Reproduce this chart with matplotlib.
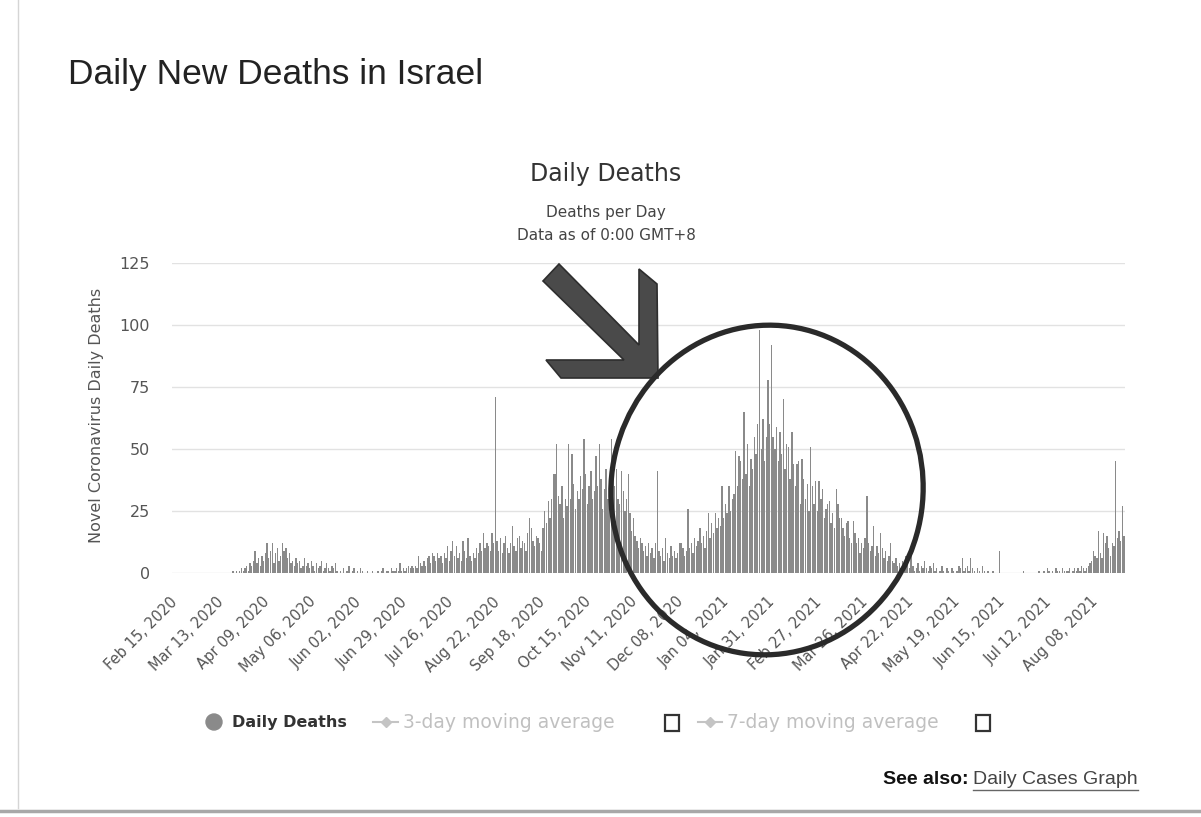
import pandas as pd
import numpy as np
import matplotlib
matplotlib.use("Agg")
import matplotlib.pyplot as plt
from matplotlib.patches import Polygon, Ellipse, Circle, Rectangle
from matplotlib.transforms import ScaledTranslation

# --- data (one value per day, first day Feb 15, 2020) ---
start_date = "2020-02-15"
daily_deaths = [
    0, 0, 0, 0, 0, 0, 0,  0, 0, 0, 0, 0, 0, 0,  0, 0, 0, 0, 0, 0, 0,
    0, 0, 0, 0, 0, 0, 0,  0, 0, 0, 0, 0, 0,
    1, 0, 1, 0, 1, 2, 1,
    2, 3, 1, 4, 3, 5, 9,
    4, 6, 3, 7, 5, 8, 12,
    6, 9, 12, 4, 8, 10, 5,
    7, 12, 9, 10, 6, 8, 4,
    5, 3, 6, 4, 5, 2, 3,
    6, 3, 4, 2, 5, 3, 1,
    4, 2, 3, 5, 1, 2, 4,
    2, 1, 3, 2, 4, 1, 0,
    1, 0, 2, 0, 1, 3, 0,
    1, 2, 0, 1, 0, 2, 1,
    0, 0, 1, 0, 0, 1, 0,
    0, 1, 0, 1, 2, 0, 1,
    1, 0, 2, 1, 1, 2, 1,
    4, 1, 2, 1, 2, 3, 2,
    3, 2, 3, 2, 7, 4, 3,
    5, 3, 6, 7, 4, 8, 7,
    5, 8, 6, 7, 4, 8, 6,
    11, 5, 9, 13, 7, 11, 6,
    8, 5, 13, 9, 6, 14, 7,
    5, 8, 6, 10, 8, 12, 9,
    16, 10, 12, 11, 9, 16, 12,
    71, 13, 9, 14, 8, 12, 15,
    10, 8, 12, 19, 11, 9, 14,
    15, 10, 13, 12, 9, 16, 22,
    18, 13, 11, 15, 14, 12, 9,
    18, 25, 20, 29, 22, 30, 40,
    40, 52, 31, 28, 35, 22, 30,
    27, 52, 30, 48, 36, 26, 33,
    30, 39, 34, 54, 40, 28, 35,
    41, 30, 33, 47, 35, 52, 38,
    26, 34, 42, 30, 38, 54, 47,
    35, 42, 30, 28, 41, 33, 25,
    30, 40, 24, 17, 22, 15, 13,
    10, 14, 12, 9, 11, 7, 12,
    8, 10, 6, 12, 41, 9, 7,
    10, 5, 14, 8, 6, 11, 7,
    9, 6, 8, 12, 12, 10, 7,
    9, 26, 10, 12, 8, 14, 11,
    13, 18, 12, 15, 10, 17, 24,
    14, 20, 16, 24, 18, 22, 19,
    35, 22, 28, 24, 35, 25, 30,
    32, 49, 35, 47, 45, 38, 65,
    40, 52, 35, 46, 42, 55, 48,
    60, 98, 50, 62, 45, 55, 78,
    60, 92, 55, 50, 59, 45, 57,
    48, 70, 42, 52, 51, 38, 57,
    44, 35, 44, 45, 28, 46, 38,
    30, 36, 25, 51, 35, 28, 37,
    25, 37, 30, 34, 22, 26, 28,
    29, 20, 24, 18, 34, 28, 22,
    22, 18, 15, 20, 21, 14, 12,
    21, 16, 12, 14, 8, 12, 10,
    14, 31, 12, 9, 11, 19, 7,
    11, 8, 16, 10, 6, 9, 5,
    7, 12, 5, 4, 6, 3, 4,
    2, 5, 3, 7, 4, 2, 10,
    3, 1, 2, 4, 1, 3, 2,
    5, 2, 1, 3, 2, 4, 1,
    2, 0, 1, 3, 1, 0, 2,
    1, 0, 2, 1, 0, 1, 3,
    2, 6, 1, 2, 3, 1, 6,
    2, 1, 0, 2, 1, 0, 3,
    1, 0, 1, 0, 0, 1, 0,
    0, 0, 9, 0, 0, 0, 0,
    0, 0, 0, 0, 0, 0, 0,
    0, 0, 1, 0, 0, 0, 0,
    0, 0, 0, 0, 1, 0, 0,
    1, 0, 2, 1, 0, 1, 0,
    2, 1, 1, 0, 2, 1, 1,
    1, 2, 0, 1, 2, 1, 2,
    1, 3, 2, 1, 2, 3, 4,
    5, 9, 7, 6, 17, 8, 6,
    16, 12, 15, 10, 7, 12, 11,
    45, 14, 17, 13, 27, 15,
]

tick_labels = [
    "Feb 15, 2020", "Mar 13, 2020", "Apr 09, 2020", "May 06, 2020",
    "Jun 02, 2020", "Jun 29, 2020", "Jul 26, 2020", "Aug 22, 2020",
    "Sep 18, 2020", "Oct 15, 2020", "Nov 11, 2020", "Dec 08, 2020",
    "Jan 04, 2021", "Jan 31, 2021", "Feb 27, 2021", "Mar 26, 2021",
    "Apr 22, 2021", "May 19, 2021", "Jun 15, 2021", "Jul 12, 2021",
    "Aug 08, 2021",
]
y_ticks = [0, 25, 50, 75, 100, 125]

dates = pd.date_range(start_date, periods=len(daily_deaths), freq="D")
tick_dates = pd.to_datetime(tick_labels, format="%b %d, %Y")
tick_pos = [(d - dates[0]).days for d in tick_dates]
x = np.arange(len(dates))

W, H = 1201, 817
fig = plt.figure(figsize=(W / 100, H / 100), dpi=100)
fig.patch.set_facecolor("white")

# chart area (pixel box 172..1125 x 263..573)
ax = fig.add_axes([172 / W, 1 - 573 / H, (1125 - 172) / W, (573 - 263) / H])
ax.bar(x, daily_deaths, width=0.8, color="#8a8a8a", linewidth=0, zorder=2)
ax.set_xlim(-1.8, len(dates) - 0.5)
ax.set_ylim(0, 125)
ax.set_yticks(y_ticks)
ax.set_yticklabels([str(v) for v in y_ticks], fontsize=11.5, color="#555555")
ax.set_xticks(tick_pos)
ax.set_xticklabels(tick_labels, rotation=45, ha="right", va="center",
                   rotation_mode="anchor", fontsize=10.5, color="#555555")
offset = ScaledTranslation(6 / 100, 0, fig.dpi_scale_trans)
for lbl in ax.get_xticklabels():
    lbl.set_transform(lbl.get_transform() + offset)
ax.tick_params(axis="x", length=0, pad=19)
ax.tick_params(axis="y", length=0, pad=16)
ax.grid(axis="y", color="#e2e2e2", linewidth=1, zorder=0)
for s in ax.spines.values():
    s.set_visible(False)

# overlay in pixel coordinates for titles, legend and the hand-drawn marks
ov = fig.add_axes([0, 0, 1, 1], zorder=5)
ov.set_xlim(0, W)
ov.set_ylim(H, 0)
ov.axis("off")
ov.patch.set_alpha(0)

ov.plot([18, 18], [0, 808], color="#d5d5d5", lw=1)
ov.plot([0, W], [811, 811], color="#a8a8a8", lw=2.5)

ov.text(68, 74, "Daily New Deaths in Israel", fontsize=25.5, family="Liberation Sans",
        color="#222222", ha="left", va="center")
ov.text(606, 174, "Daily Deaths", fontsize=17, color="#333333", ha="center", va="center")
ov.text(606, 212, "Deaths per Day", fontsize=11, color="#444444", ha="center", va="center")
ov.text(606, 235, "Data as of 0:00 GMT+8", fontsize=11, color="#444444", ha="center", va="center")
ov.text(97, 415, "Novel Coronavirus Daily Deaths", fontsize=11.5, color="#555555",
        rotation=90, ha="center", va="center")

# legend
ov.add_patch(Circle((214, 722), 8, color="#8a8a8a"))
ov.text(232, 722, "Daily Deaths", fontsize=11.5, weight="bold", color="#333333",
        ha="left", va="center")
ov.plot([373, 398], [722, 722], color="#c4c4c4", lw=1.5)
ov.plot([386], [722], marker="D", ms=5, color="#c4c4c4")
ov.text(403, 722, "3-day moving average", fontsize=13.5, color="#c0c0c0",
        ha="left", va="center")
ov.add_patch(Rectangle((665, 715), 14, 16, fill=False, ec="#333333", lw=1.6))
ov.plot([698, 722], [722, 722], color="#c4c4c4", lw=1.5)
ov.plot([710], [722], marker="D", ms=5, color="#c4c4c4")
ov.text(727, 722, "7-day moving average", fontsize=13.5, color="#c0c0c0",
        ha="left", va="center")
ov.add_patch(Rectangle((976, 715), 14, 16, fill=False, ec="#333333", lw=1.6))

link = ov.text(1138, 779, "Daily Cases Graph", fontsize=14, family="Liberation Sans",
               color="#444444", ha="right", va="center")
fig.canvas.draw()
bb = link.get_window_extent().transformed(ov.transData.inverted())
ov.plot([bb.x0, bb.x1], [790, 790], color="#666666", lw=1)
ov.text(bb.x0 - 5, 779, "See also:", fontsize=14, family="Liberation Sans", weight="bold",
        color="#111111", ha="right", va="center")

# hand-drawn arrow and circle
arrow = [(658, 378), (561, 378), (546, 360), (624, 360), (543, 281), (559, 264),
         (639, 345), (639, 269), (657, 284), (658, 378)]
ov.add_patch(Polygon(arrow, closed=True, fc="#4a4a4a", ec="#2e2e2e", lw=1.2))
ov.add_patch(Ellipse((767, 490), 312, 330, angle=8, fill=False, ec="#2a2a2a", lw=3.8))

fig.savefig("out.png", dpi=100, facecolor="white")
